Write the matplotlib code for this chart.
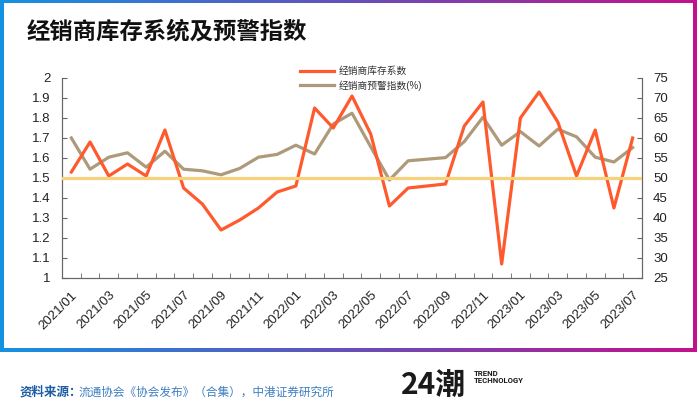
import matplotlib
matplotlib.use("Agg")
import matplotlib.pyplot as plt
import numpy as np
from matplotlib.colors import LinearSegmentedColormap
from matplotlib.patches import Rectangle
from matplotlib.ticker import FixedLocator, FuncFormatter

plt.rcParams['font.family'] = ['Liberation Sans', 'Noto Sans CJK SC', 'DejaVu Sans']

months = [f"{y}/{m:02d}" for y in (2021, 2022, 2023) for m in range(1, 13)][:31]

inventory_coef = [1.53, 1.68, 1.51, 1.57, 1.51, 1.74, 1.45, 1.37, 1.24, 1.29,
                  1.35, 1.43, 1.46, 1.85, 1.75, 1.91, 1.72, 1.36, 1.45, 1.46,
                  1.47, 1.76, 1.88, 1.07, 1.80, 1.93, 1.78, 1.51, 1.74, 1.35, 1.70]
warning_index = [60.0, 52.2, 55.2, 56.3, 52.7, 56.7, 52.2, 51.8, 50.8, 52.4,
                 55.2, 55.9, 58.2, 56.0, 63.5, 66.2, 57.8, 49.5, 54.3, 54.7,
                 55.1, 59.1, 65.2, 58.2, 61.6, 58.0, 62.2, 60.3, 55.2, 54.0, 57.6]
ref_value = 1.5

series_names = ["经销商库存系数", "经销商预警指数(%)"]
title = "经销商库存系统及预警指数"
src_label = "资料来源："
src_text = "流通协会《协会发布》（合集），中港证券研究所"

W, H = 700, 416
fig = plt.figure(figsize=(W / 100, H / 100), dpi=100)

# background frame with gradient
bg = fig.add_axes([0, 0, 1, 1], zorder=-10)
bg.axis('off')
cmap = LinearSegmentedColormap.from_list('frame', ['#1592E2', '#6650B8', '#C4118C'])
grad = np.linspace(0, 1, 256).reshape(1, -1)
bg.imshow(grad, cmap=cmap, aspect='auto', extent=[0, 697, 352, 0])
bg.add_patch(Rectangle((4, 3), 689, 345, facecolor='white', edgecolor='none'))
bg.set_xlim(0, W)
bg.set_ylim(H, 0)

# main axes
x = np.arange(len(months))
ax = fig.add_axes([62 / W, 1 - 278 / H, (642 - 62) / W, 200 / H])
ax2 = ax.twinx()
ax.set_zorder(ax2.get_zorder() + 1)
ax.patch.set_visible(False)

l1, = ax.plot(x, inventory_coef, color='#FF5A2E', lw=2.3, zorder=3)
l2, = ax2.plot(x, warning_index, color='#AE9A7A', lw=2.3, zorder=3)
ax.axhline(ref_value, color='#F6D27C', lw=2.3, zorder=4)

ax.set_xlim(-0.5, len(months) - 0.5)
ax.set_ylim(1, 2)
ax2.set_ylim(25, 75)
ax.set_yticks(np.arange(1, 2.01, 0.1))
ax2.set_yticks(np.arange(25, 76, 5))
ax.yaxis.set_major_formatter(FuncFormatter(lambda v, p: f"{v:g}"))

ax.set_xticks(x[::2])
ax.set_xticklabels(months[::2], rotation=45, ha='right', rotation_mode='anchor')
ax.xaxis.set_minor_locator(FixedLocator(np.arange(-0.5, len(months), 1.0)))

spine_c = '#666666'
for a in (ax, ax2):
    for s in a.spines.values():
        s.set_color(spine_c)
    a.spines['top'].set_visible(False)
ax.tick_params(axis='x', which='major', length=0, pad=8, labelsize=9.5, colors='#222222')
ax.tick_params(axis='x', which='minor', direction='in', length=3.5, color=spine_c)
ax.tick_params(axis='y', direction='in', length=3.5, color=spine_c, labelsize=9.5,
               labelcolor='#222222', pad=8)
ax2.tick_params(axis='y', direction='in', length=3.5, color=spine_c, labelsize=9.5,
                labelcolor='#222222', pad=8)

leg = ax.legend([l1, l2], series_names, loc='upper left',
                bbox_to_anchor=(300 / W, 1 - 66 / H), bbox_transform=fig.transFigure,
                frameon=False, fontsize=7, handlelength=3.5, handletextpad=0.5,
                labelspacing=0.45, borderpad=0, borderaxespad=0)
for t in leg.get_texts():
    t.set_color('#333333')

cjk = ['Noto Sans CJK SC', 'DejaVu Sans']
# title
fig.text(27 / W, 1 - 31 / H, title, fontsize=16.8, fontweight='bold', color='#111111',
         va='center', ha='left', family=cjk)

# footer
fig.text(20 / W, 1 - 392 / H, src_label, fontsize=9, fontweight='bold', color='#1C5DA3',
         va='center', ha='left', family=cjk)
fig.text(79 / W, 1 - 392 / H, src_text, fontsize=8.4, color='#3C7EC2',
         va='center', ha='left', family=cjk)

# logo
fig.text(401 / W, 1 - 385 / H, "24潮", fontsize=21.5, fontweight='bold', color='#1A1A1A',
         va='center', ha='left', family=cjk)
fig.text(474 / W, 1 - 377 / H, "TREND\nTECHNOLOGY", fontsize=5.6, fontweight='bold', color='#1A1A1A',
         va='center', ha='left', linespacing=1.1, family=['Roboto', 'DejaVu Sans'])

fig.savefig('out.png', dpi=100)
